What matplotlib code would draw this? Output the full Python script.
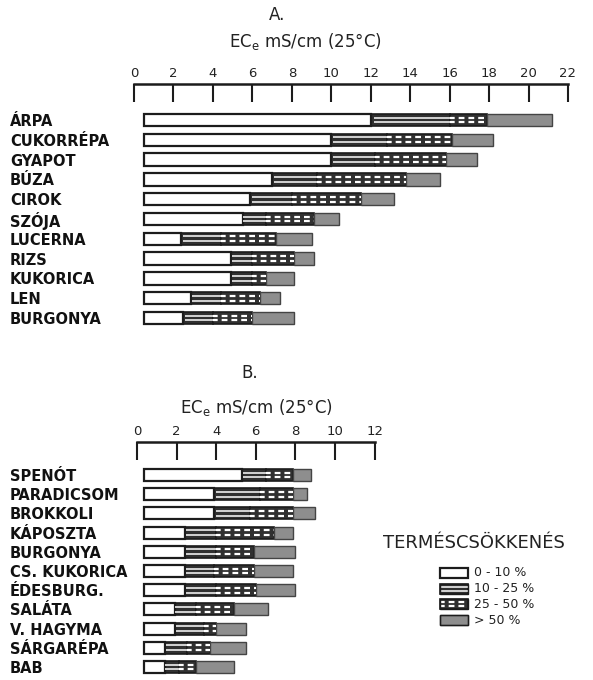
import matplotlib
matplotlib.use("Agg")
import matplotlib.pyplot as plt

plt.rcParams["font.family"] = ["DejaVu Sans"]
plt.rcParams["mathtext.default"] = "regular"

# ---- data: salinity (ECe, mS/cm) at which yield loss reaches each class ----
crops_a = ["ÁRPA", "CUKORRÉPA", "GYAPOT", "BÚZA", "CIROK", "SZÓJA",
           "LUCERNA", "RIZS", "KUKORICA", "LEN", "BURGONYA"]
loss10_a = [12.0, 10.0, 10.0, 7.0, 5.9, 5.5, 2.4, 4.9, 4.9, 2.9, 2.5]
loss25_a = [16.0, 12.8, 12.2, 9.3, 8.0, 6.7, 4.4, 6.0, 6.0, 4.4, 4.0]
loss50_a = [17.9, 16.1, 15.8, 13.8, 11.5, 9.1, 7.2, 8.1, 6.7, 6.4, 6.0]
lossmax_a = [21.2, 18.2, 17.4, 15.5, 13.2, 10.4, 9.0, 9.1, 8.1, 7.4, 8.1]
ticks_a = [0, 2, 4, 6, 8, 10, 12, 14, 16, 18, 20, 22]

crops_b = ["SPENÓT", "PARADICSOM", "BROKKOLI", "KÁPOSZTA", "BURGONYA",
           "CS. KUKORICA", "ÉDESBURG.", "SALÁTA", "V. HAGYMA", "SÁRGARÉPA", "BAB"]
loss10_b = [5.3, 3.9, 3.9, 2.4, 2.4, 2.4, 2.4, 1.9, 1.9, 1.4, 1.4]
loss25_b = [6.5, 6.2, 5.7, 4.0, 4.0, 3.9, 4.0, 3.0, 3.4, 2.5, 2.1]
loss50_b = [7.9, 7.9, 7.9, 6.9, 5.9, 5.9, 6.0, 4.9, 4.0, 3.7, 3.0]
lossmax_b = [8.8, 8.6, 9.0, 7.9, 8.0, 7.9, 8.0, 6.6, 5.5, 5.5, 4.9]
ticks_b = [0, 2, 4, 6, 8, 10, 12]

legend_title = "TERMÉSCSÖKKENÉS"
legend_labels = ["0 - 10 %", "10 - 25 %", "25 - 50 %", "> 50 %"]

# ---- styling ----
W, H = 593, 680
INK = "#1c1c1c"
DARK = "#303030"
GREY = "#8e8e8e"
BAR_H = 0.62

fig = plt.figure(figsize=(W / 100, H / 100), dpi=100)


def px_axes(left, right, top, bottom):
    return fig.add_axes([left / W, 1 - bottom / H, (right - left) / W, (bottom - top) / H])


def draw_segment(ax, kind, y, x0, x1, h):
    """One class segment of a tolerance bar."""
    if x1 <= x0:
        return
    off = 0.2 * h
    if kind == 0:
        ax.barh(y, x1 - x0, left=x0, height=h, color="white", edgecolor=INK, linewidth=1.6, zorder=3)
    elif kind == 1:
        ax.barh(y, x1 - x0, left=x0, height=h, color=DARK, edgecolor=INK, linewidth=1.2, zorder=2)
        ax.hlines([y - off, y + off], x0 + 0.04 * (x1 - x0), x1, colors="white", linewidth=1.1, zorder=4)
    elif kind == 2:
        ax.barh(y, x1 - x0, left=x0, height=h, color=DARK, edgecolor=INK, linewidth=1.2, zorder=2)
        ax.hlines([y - off, y + off], x0, x1, colors="white", linewidth=1.6,
                  linestyles=(0.5, (2.6, 1.8)), zorder=4)
    else:
        ax.barh(y, x1 - x0, left=x0, height=h, color=GREY, edgecolor="#444444", linewidth=1.0, zorder=2)


def panel(ax, crops, l10, l25, l50, lmax, ticks, start, label_pad_px):
    n = len(crops)
    for i in range(n):
        edges = [start, l10[i], l25[i], l50[i], lmax[i]]
        for k in range(4):
            draw_segment(ax, k, i, edges[k], edges[k + 1], BAR_H)
    ax.set_xlim(ticks[0], ticks[-1])
    ax.xaxis.tick_top()
    ax.set_xticks(ticks)
    ax.set_xticklabels([str(t) for t in ticks], fontsize=9.5, color="#222222")
    ax.tick_params(axis="x", direction="in", length=13, width=1.5, color=INK, pad=3)
    ax.set_yticks(range(n))
    ax.set_yticklabels(crops, fontsize=10.5, fontweight="bold", ha="left", color="#111111")
    ax.tick_params(axis="y", length=0, pad=label_pad_px * 0.72)
    for s in ("left", "right", "bottom"):
        ax.spines[s].set_visible(False)
    ax.spines["top"].set_linewidth(1.8)
    ax.spines["top"].set_color(INK)
    ax.set_facecolor("none")


# Panel A: field crops
row0_a, step_a = 120, 19.8
top_a, bot_a = 84, 332
ax_a = px_axes(134, 568, top_a, bot_a)
panel(ax_a, crops_a, loss10_a, loss25_a, loss50_a, lossmax_a, ticks_a, 0.5, 124)
ax_a.set_ylim((bot_a - row0_a) / step_a, -(row0_a - top_a) / step_a)

# Panel B: vegetables
row0_b, step_b = 475, 19.2
top_b, bot_b = 442, 680
ax_b = px_axes(137, 374.6, top_b, bot_b)
panel(ax_b, crops_b, loss10_b, loss25_b, loss50_b, lossmax_b, ticks_b, 0.35, 127)
ax_b.set_ylim((bot_b - row0_b) / step_b, -(row0_b - top_b) / step_b)

# Titles and legend drawn on a pixel-space overlay
ov = fig.add_axes([0, 0, 1, 1], zorder=-1)
ov.set_xlim(0, W)
ov.set_ylim(H, 0)
ov.axis("off")

unit = "EC$_{e}$ mS/cm (25°C)"
ov.text(277, 15, "A.", ha="center", va="center", fontsize=12, color="#222222")
ov.text(305, 41, unit, ha="center", va="center", fontsize=12, color="#222222")
ov.text(250, 373, "B.", ha="center", va="center", fontsize=12, color="#222222")
ov.text(256, 407, unit, ha="center", va="center", fontsize=12, color="#222222")

ov.text(383, 543, legend_title, ha="left", va="center", fontsize=13, color="#222222")
leg_y = [573, 589, 604, 620]
for k, (y, lab) in enumerate(zip(leg_y, legend_labels)):
    draw_segment(ov, k, y, 440, 468, 10)
    if k > 0:
        ov.barh(y, 28, left=440, height=10, color="none", edgecolor=INK, linewidth=1.0, zorder=5)
    ov.text(474, y, lab, ha="left", va="center", fontsize=9, color="#222222")

fig.savefig("out.png", dpi=100)
